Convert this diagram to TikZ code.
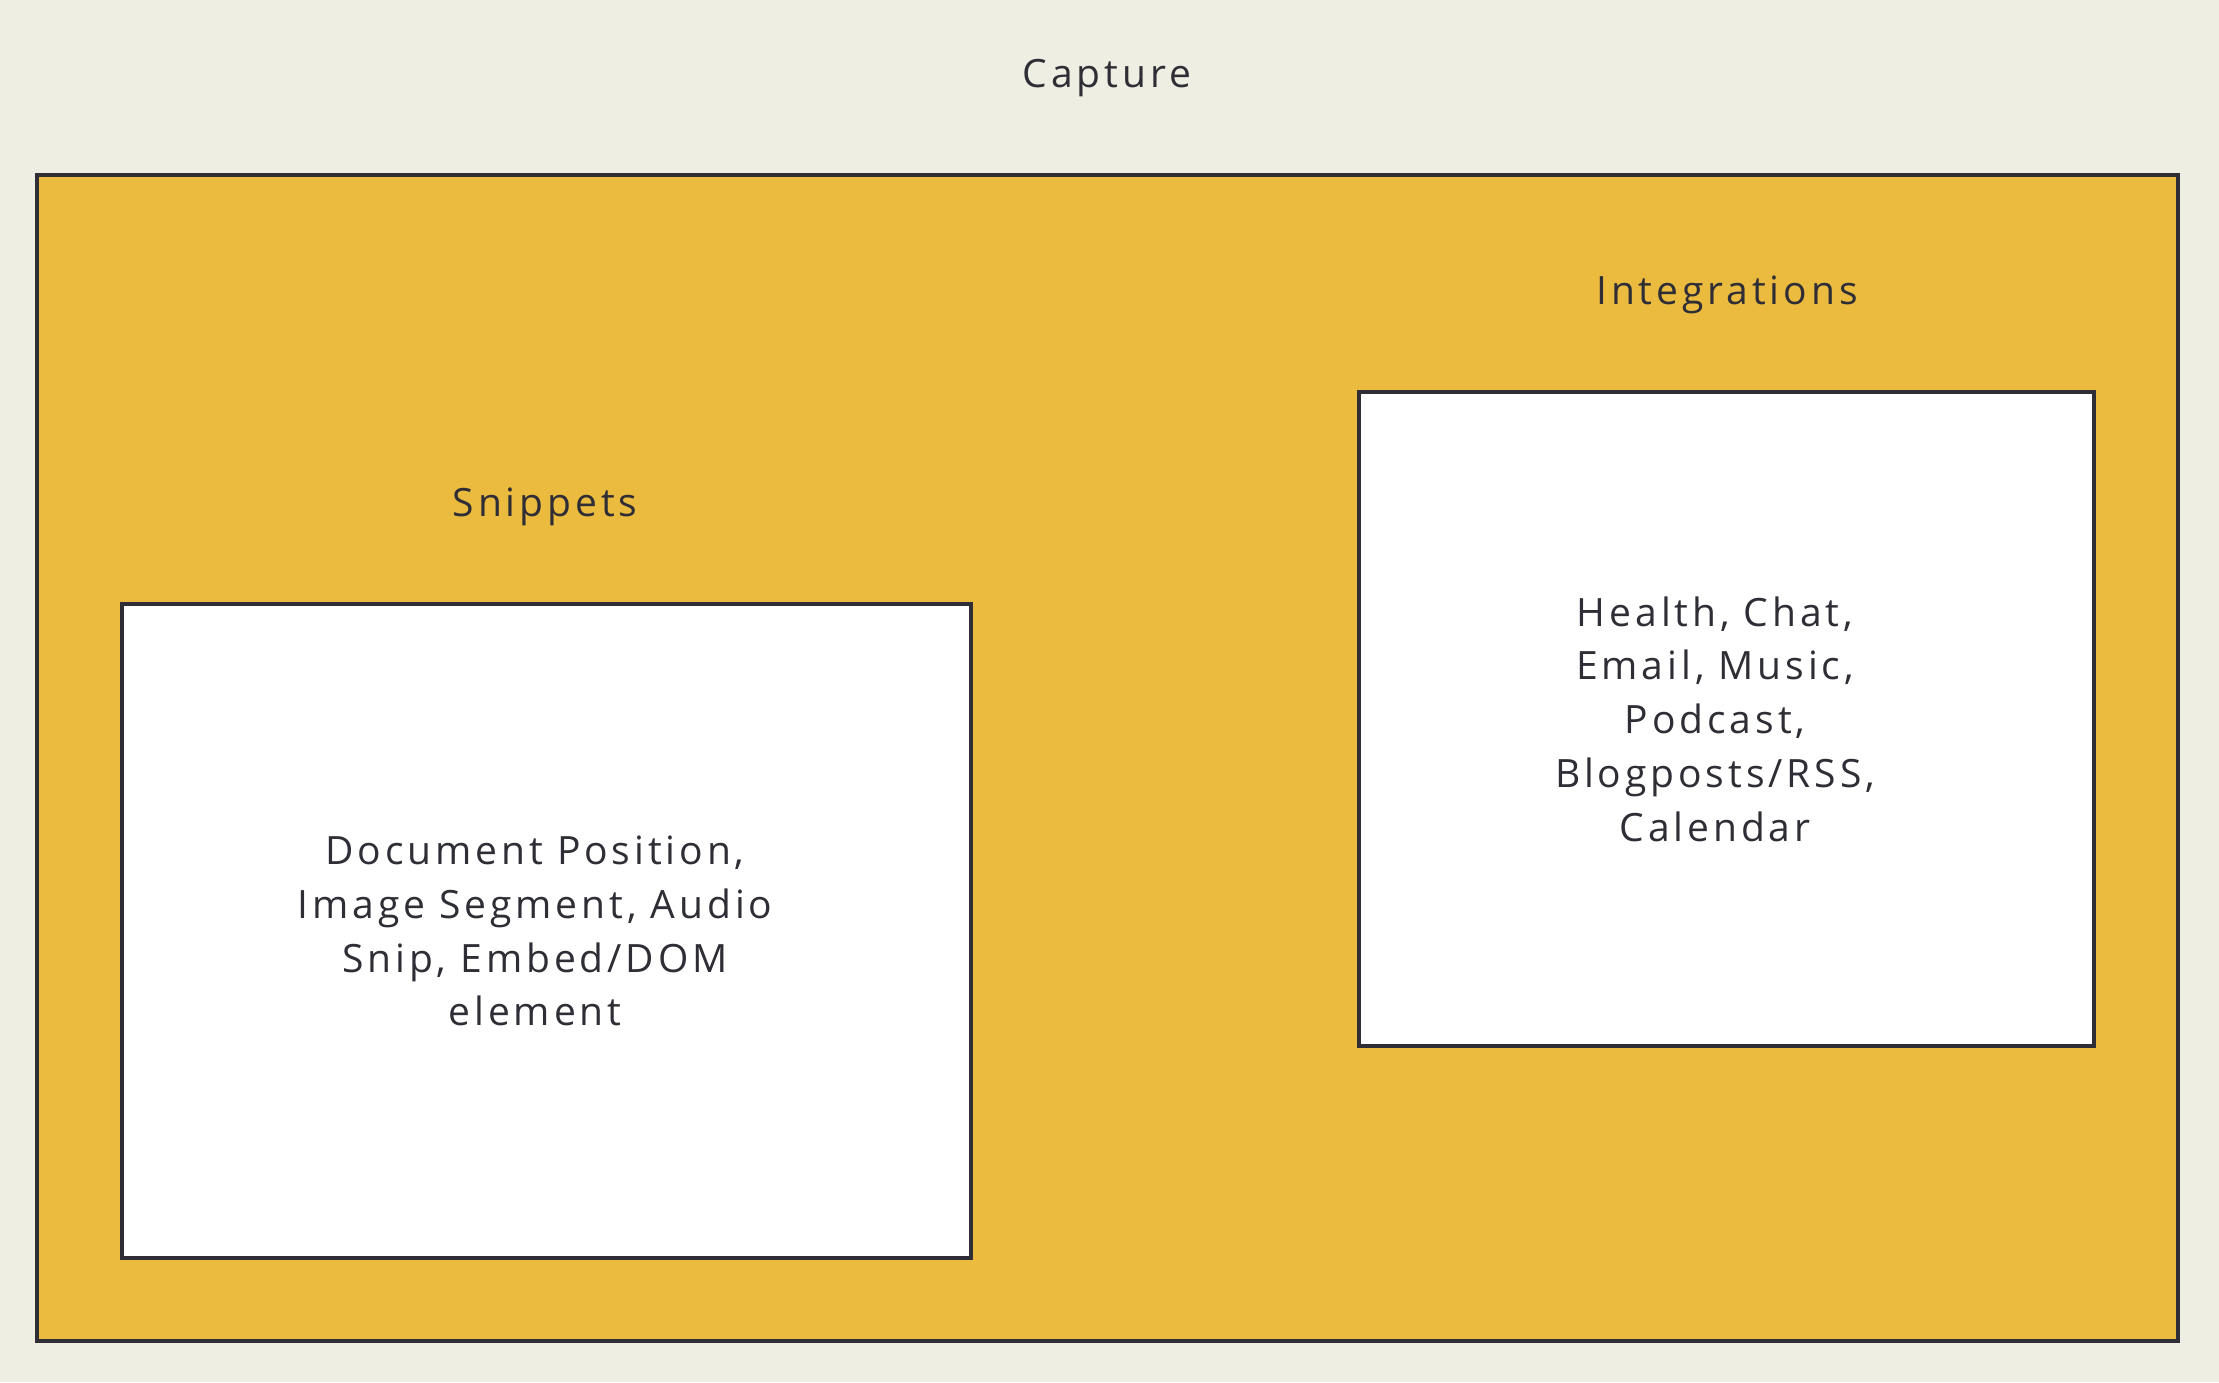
\documentclass[tikz,border=0pt]{standalone}
\usepackage{fontspec}
\setmainfont[LetterSpace=10]{Open Sans}
\definecolor{bgc}{HTML}{EEEFE2}
\definecolor{yel}{HTML}{EABB3E}
\definecolor{ink}{HTML}{2F2D35}
\begin{document}
\begin{tikzpicture}[x=0.5pt,y=-0.5pt,
  box/.style={draw=ink,line width=2.2pt},
  lbl/.style={text=ink,font=\fontsize{19.5}{26.9}\selectfont,align=center,inner sep=0pt}]
\fill[bgc] (0,0) rectangle (2219,1382);
\useasboundingbox (0,0) rectangle (2219,1382);
\draw[box,fill=yel] (37,175) rectangle (2178,1341);
\node[lbl] (cap) at (1107,78) {Capture};
\draw[box,fill=white] (1359,392) rectangle (2094,1046);
\node[lbl] (intl) at (1727,295) {Integrations};
\node[lbl] (intt) at (1715,719) {Health, Chat,\\Email, Music,\\Podcast,\\Blogposts/RSS,\\Calendar};
\draw[box,fill=white] (122,604) rectangle (971,1258);
\node[lbl] (snl) at (545,507) {Snippets};
\node[lbl] (snt) at (535,931) {Document Position,\\Image Segment, Audio\\Snip, Embed/DOM\\element};
\end{tikzpicture}
\end{document}
